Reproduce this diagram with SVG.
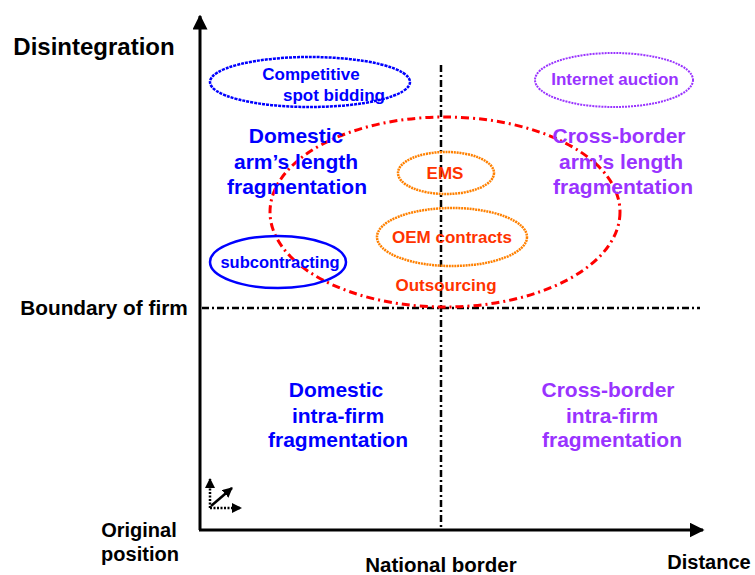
<svg xmlns="http://www.w3.org/2000/svg" width="755" height="575" viewBox="0 0 755 575">
<style>
text{font-family:"Liberation Sans",Arial,sans-serif;font-weight:bold;text-anchor:middle}
.blk{fill:#000}
.blue{fill:#0000ff}
.pur{fill:#9933ff}
.red{fill:#ff3300}
.quad{font-size:21px}
.lbl{font-size:17px}
.axl{font-size:20px}
.dd{stroke:#000;stroke-width:2.5;stroke-dasharray:7 3 2 3;fill:none}
</style>
<defs>
<marker id="ah" viewBox="0 0 10 10" refX="9" refY="5" markerWidth="5" markerHeight="5" orient="auto" markerUnits="strokeWidth">
<path d="M0,0 L10,5 L0,10 z" fill="#000"/>
</marker>
<marker id="ahs" viewBox="0 0 10 10" refX="9" refY="5" markerWidth="4" markerHeight="4" orient="auto" markerUnits="strokeWidth">
<path d="M0,0 L10,5 L0,10 z" fill="#000"/>
</marker>
</defs>
<rect width="755" height="575" fill="#fff"/>
<g id="connectors">
<line x1="200" y1="530" x2="200" y2="16" stroke="#000" stroke-width="3" marker-end="url(#ah)"/>
<line x1="199" y1="530" x2="703" y2="530" stroke="#000" stroke-width="3" marker-end="url(#ah)"/>
<line class="dd" x1="441" y1="65" x2="441" y2="528"/>
<line class="dd" x1="202" y1="308" x2="700" y2="308"/>
<g id="icon" stroke="#000" stroke-width="2.5" fill="none">
<line x1="210" y1="508" x2="210" y2="479" stroke-dasharray="2 1.5" marker-end="url(#ahs)"/>
<line x1="210" y1="508" x2="241" y2="508" stroke-dasharray="2 1.5" marker-end="url(#ahs)"/>
<line x1="211" y1="506" x2="232" y2="488" marker-end="url(#ahs)"/>
</g>
</g>
<g id="axis-labels">
<text class="blk" x="94" y="55" style="font-size:24px">Disintegration</text>
<text class="blk" x="104" y="315" style="font-size:20.8px">Boundary of firm</text>
<text class="blk axl" x="139" y="537">Original</text>
<text class="blk axl" x="140" y="561">position</text>
<text class="blk" x="441" y="572" style="font-size:20.5px">National border</text>
<text class="blk axl" x="709" y="569">Distance</text>
</g>
<g id="outsourcing">
<ellipse cx="445" cy="212" rx="175" ry="95" fill="none" stroke="#ff0000" stroke-width="3" stroke-dasharray="8 4 2 4"/>
<text class="red lbl" x="446" y="291">Outsourcing</text>
</g>
<g id="competitive">
<ellipse cx="310" cy="82" rx="100" ry="25" fill="none" stroke="#0000ff" stroke-width="2.5" stroke-dasharray="3 1"/>
<text class="blue lbl" x="311" y="80">Competitive</text>
<text class="blue lbl" x="334" y="101">spot bidding</text>
</g>
<g id="internet">
<ellipse cx="614" cy="80" rx="79" ry="27" fill="none" stroke="#9933ff" stroke-width="2" stroke-dasharray="2 1"/>
<text class="pur lbl" x="615" y="85">Internet auction</text>
</g>
<g id="subcontracting">
<ellipse cx="278" cy="262" rx="68" ry="26" fill="none" stroke="#0000ff" stroke-width="2.5"/>
<text class="blue" x="280" y="268" style="font-size:16.5px">subcontracting</text>
</g>
<g id="ems">
<ellipse cx="446" cy="173" rx="48" ry="21" fill="none" stroke="#ff8000" stroke-width="2.5" stroke-dasharray="2 0.8"/>
<text class="red lbl" x="445" y="179">EMS</text>
</g>
<g id="oem">
<ellipse cx="452" cy="237" rx="75" ry="29" fill="none" stroke="#ff8000" stroke-width="2.5" stroke-dasharray="2 0.8"/>
<text class="red lbl" x="452" y="243">OEM contracts</text>
</g>
<g id="dom-arm">
<text class="blue quad" x="296" y="142.5">Domestic</text>
<text class="blue quad" x="296" y="168.5">arm’s length</text>
<text class="blue quad" x="297" y="193.5">fragmentation</text>
</g>
<g id="cross-arm">
<text class="pur quad" x="619" y="143">Cross-border</text>
<text class="pur quad" x="621" y="169">arm’s length</text>
<text class="pur quad" x="623" y="194">fragmentation</text>
</g>
<g id="dom-intra">
<text class="blue quad" x="336" y="397">Domestic</text>
<text class="blue quad" x="338" y="423">intra-firm</text>
<text class="blue quad" x="338" y="447">fragmentation</text>
</g>
<g id="cross-intra">
<text class="pur quad" x="608" y="397">Cross-border</text>
<text class="pur quad" x="612" y="423">intra-firm</text>
<text class="pur quad" x="612" y="447">fragmentation</text>
</g>
</svg>
